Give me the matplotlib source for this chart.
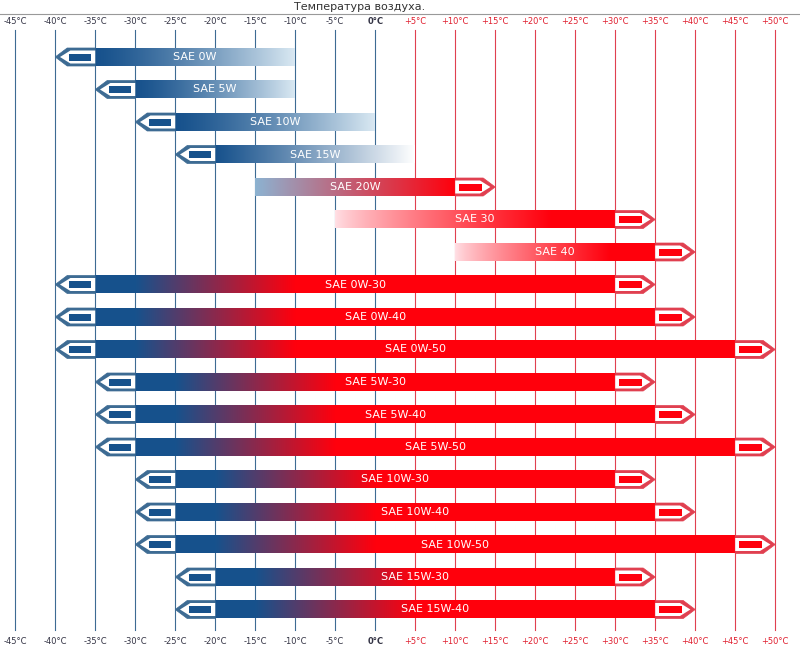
import matplotlib
matplotlib.use("Agg")
import matplotlib.pyplot as plt
import numpy as np
from matplotlib.patches import Polygon, Rectangle

LABELS = ["SAE 0W", "SAE 5W", "SAE 10W", "SAE 15W", "SAE 20W", "SAE 30", "SAE 40",
          "SAE 0W-30", "SAE 0W-40", "SAE 0W-50", "SAE 5W-30", "SAE 5W-40", "SAE 5W-50",
          "SAE 10W-30", "SAE 10W-40", "SAE 10W-50", "SAE 15W-30", "SAE 15W-40"]
LOW = [-40, -35, -30, -25, -15, -5, 10, -40, -40, -40, -35, -35, -35, -30, -30, -30, -25, -25]
HIGH = [-10, -10, 0, 5, 15, 35, 40, 35, 40, 50, 35, 40, 50, 35, 40, 50, 35, 40]
# cap flags: left arrow (cold limit), right arrow (hot limit)
CAP_L = [1, 1, 1, 1, 0, 0, 0] + [1] * 11
CAP_R = [0, 0, 0, 0, 1, 1, 1] + [1] * 11
TICKS = list(range(-45, 55, 5))

DARK_BLUE = np.array([0.09, 0.32, 0.55])
LIGHT_BLUE = np.array([0.85, 0.91, 0.95])
RED = np.array([1.0, 0.0, 0.05])
PINK = np.array([1.0, 0.88, 0.9])
EDGE_BLUE = "#3d6b93"
EDGE_RED = "#e04050"

fig = plt.figure(figsize=(8, 6.54), dpi=100)
ax = fig.add_axes([0, 0, 1, 1])
ax.set_xlim(-46.9, 53.1)
ax.set_ylim(654, 0)
ax.axis("off")

ax.text(360 / 8 - 46.9, 7, "Температура воздуха.", ha="center", va="center", fontsize=8, color="#333")
ax.plot([-46.9, 53.1], [14, 14], color="#999", lw=0.8)
for t in TICKS:
    col = EDGE_BLUE if t <= 0 else EDGE_RED
    lab = f"{t}°C" if t <= 0 else f"+{t}°C"
    if t == 0:
        lab = "0°C"
    tc = "#334" if t <= 0 else "#e02030"
    ax.plot([t, t], [30, 630], color=col, lw=0.8, zorder=1)
    for y in (22, 641):
        ax.text(t, y, lab, ha="center", va="center", fontsize=6, color=tc,
                fontweight="bold" if t == 0 else "normal")

h = 18
cw = 5
for i, (name, lo, hi, cl, cr) in enumerate(zip(LABELS, LOW, HIGH, CAP_L, CAP_R)):
    yc = 57 + i * 32.5
    x0 = lo + cw if cl else lo
    x1 = hi - cw if cr else hi
    t = np.linspace(0, 1, 300)[:, None]
    if cl and not cr:
        rgb = DARK_BLUE + (LIGHT_BLUE - DARK_BLUE) * t ** 1.3
        if hi == 5:
            rgb = DARK_BLUE + (np.ones(3) - DARK_BLUE) * t ** 1.1
    elif cr and not cl:
        rgb = PINK + (RED - PINK) * np.clip(t * 1.3, 0, 1) ** 0.8
        if lo == -15:
            rgb = np.array([0.55, 0.7, 0.82]) * (1 - t) + RED * t
    else:
        tb = np.clip((np.linspace(x0, x1, 300)[:, None] - (x0 + 5)) / 20, 0, 1)
        rgb = DARK_BLUE * (1 - tb) + RED * tb
    img = rgb[None, :, :]
    ax.imshow(img, extent=(x0, x1, yc + h / 2, yc - h / 2), aspect="auto", zorder=2, interpolation="bilinear")
    for side, on in (("l", cl), ("r", cr)):
        if not on:
            continue
        fc = DARK_BLUE if side == "l" else RED
        ec = EDGE_BLUE if side == "l" else EDGE_RED
        if side == "l":
            pts = [(lo, yc), (lo + 1.5, yc - h / 2), (lo + cw, yc - h / 2), (lo + cw, yc + h / 2), (lo + 1.5, yc + h / 2)]
            inner = [(lo + 0.6, yc), (lo + 1.9, yc - h / 2 + 2.5), (lo + cw, yc - h / 2 + 2.5), (lo + cw, yc + h / 2 - 2.5), (lo + 1.9, yc + h / 2 - 2.5)]
            rx = lo + 1.7
        else:
            pts = [(hi, yc), (hi - 1.5, yc - h / 2), (hi - cw, yc - h / 2), (hi - cw, yc + h / 2), (hi - 1.5, yc + h / 2)]
            inner = [(hi - 0.6, yc), (hi - 1.9, yc - h / 2 + 2.5), (hi - cw, yc - h / 2 + 2.5), (hi - cw, yc + h / 2 - 2.5), (hi - 1.9, yc + h / 2 - 2.5)]
            rx = hi - cw + 0.5
        ax.add_patch(Polygon(pts, closed=True, fc=ec, ec=ec, lw=0.5, zorder=3))
        ax.add_patch(Polygon(inner, closed=True, fc="white", ec="none", zorder=4))
        ax.add_patch(Rectangle((rx, yc - 3.5), 2.8, 7, fc=fc, ec="none", zorder=5))
    ax.text((x0 + x1) / 2, yc, name, ha="center", va="center", fontsize=8, color="white", zorder=6)

fig.savefig("out.png", dpi=100, facecolor="white")
